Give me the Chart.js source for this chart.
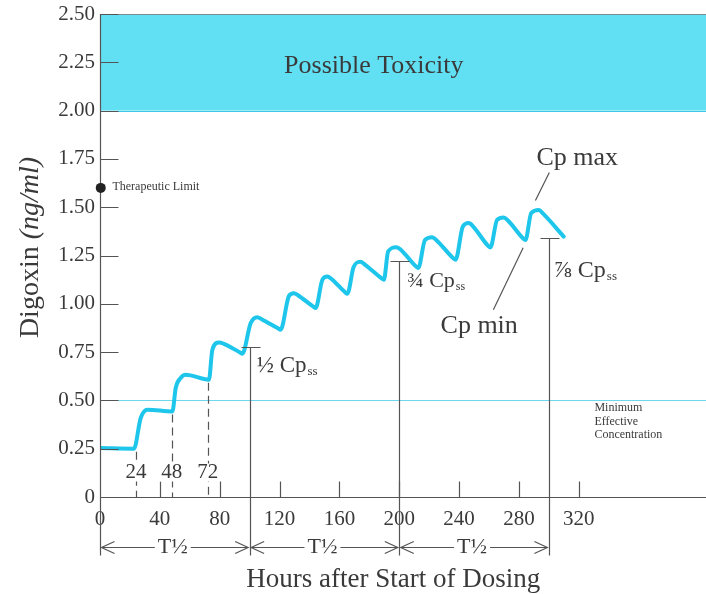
<!DOCTYPE html>
<html>
<head>
<meta charset="utf-8">
<script src="https://cdn.jsdelivr.net/npm/chart.js@4.4.1/dist/chart.umd.min.js"></script>
<style>
html,body{margin:0;padding:0;background:#fff;}
#wrap{width:706px;height:594px;position:relative;}
</style>
</head>
<body>
<div id="wrap"><canvas id="c" width="706" height="594"></canvas></div>
<script>
// ---- data ----
const hours = [0, 22.7, 27.2, 31.7, 48.4, 50.6, 53.9, 57.3, 72.8, 75.1, 79.5, 82.8, 93.6, 95.1,
  100.7, 105.1, 108, 119.2, 120.7,
  126.3, 129.6, 132.5, 142.6, 144.1,
  148.6, 151.9, 154.8, 163.8, 165.3,
  169.5, 174, 177, 188.2, 189.7,
  192.6, 198.3, 201, 211.2, 212.7,
  217.2, 222, 225, 236.1, 237.6,
  242.5, 246.4, 249.4, 259.4, 260.9,
  265.4, 269.8, 272.8, 282.8, 284.3,
  288.2, 293.3, 296.3, 309.9];
const digoxin = [0.253, 0.25, 0.409, 0.452, 0.443, 0.564, 0.616, 0.633, 0.607, 0.762, 0.80, 0.793, 0.748, 0.741,
  0.90, 0.931, 0.92, 0.872, 0.866,
  1.041, 1.055, 1.043, 0.985, 0.978,
  1.124, 1.141, 1.128, 1.06, 1.052,
  1.19, 1.218, 1.203, 1.132, 1.124,
  1.271, 1.293, 1.28, 1.193, 1.185,
  1.33, 1.345, 1.328, 1.236, 1.228,
  1.40, 1.418, 1.40, 1.30, 1.292,
  1.435, 1.447, 1.43, 1.338, 1.33,
  1.47, 1.486, 1.465, 1.348];
const xTickLabels = [0, 40, 80, 120, 160, 200, 240, 280, 320];
const yTickLabels = [0, 0.25, 0.5, 0.75, 1.0, 1.25, 1.5, 1.75, 2.0, 2.25, 2.5];
const toxicRange = [2.0, 2.5];
const minEffective = 0.5;
const therapeuticLimit = 1.6;
const doseHours = [24, 48, 72];
const doseLevels = [0.25, 0.443, 0.607];
const halfLifeHours = [100, 200, 300];
const halfLifeCaps = [0.775, 1.222, 1.341];
const halfLifeLabels = ['\u00BD', '\u00BE', '\u215E'];

const SERIF = '"Liberation Serif", "DejaVu Serif", serif';
const INK = '#3a3a3a';

function drawCpss(ctx, frac, x, y, size) {
  ctx.textAlign = 'left';
  ctx.textBaseline = 'alphabetic';
  ctx.font = size + 'px ' + SERIF;
  ctx.fillText(frac + ' Cp', x, y);
  const w = ctx.measureText(frac + ' Cp').width;
  ctx.font = Math.round(size * 0.55) + 'px ' + SERIF;
  ctx.fillText('ss', x + w + 1, y + 3);
}

function arrowHead(ctx, tx, ty, dir) {
  ctx.beginPath();
  ctx.moveTo(tx + dir * 13, ty - 6);
  ctx.lineTo(tx, ty);
  ctx.lineTo(tx + dir * 13, ty + 6);
  ctx.stroke();
}

const decor = {
  id: 'decor',
  beforeDatasetsDraw(chart) {
    const ctx = chart.ctx, xs = chart.scales.x, ys = chart.scales.y;
    ctx.save();
    const yt = ys.getPixelForValue(toxicRange[1]), yb = ys.getPixelForValue(toxicRange[0]);
    ctx.fillStyle = 'rgb(98,224,243)';
    ctx.fillRect(xs.left, yt, xs.right - xs.left, yb - yt);
    ctx.strokeStyle = '#7a8a90'; ctx.lineWidth = 1;
    ctx.beginPath(); ctx.moveTo(xs.left, Math.round(yt) + 0.5); ctx.lineTo(xs.right, Math.round(yt) + 0.5); ctx.stroke();
    ctx.strokeStyle = 'rgb(60,200,230)';
    ctx.beginPath(); ctx.moveTo(xs.left, Math.round(yb) + 0.5); ctx.lineTo(xs.right, Math.round(yb) + 0.5); ctx.stroke();
    ctx.fillStyle = INK;
    ctx.font = '26px ' + SERIF;
    ctx.textAlign = 'center'; ctx.textBaseline = 'alphabetic';
    ctx.fillText('Possible Toxicity', xs.getPixelForValue(183), ys.getPixelForValue(2.197));
    const ym = Math.round(ys.getPixelForValue(minEffective)) + 0.5;
    ctx.strokeStyle = 'rgb(110,215,238)'; ctx.lineWidth = 1;
    ctx.beginPath(); ctx.moveTo(xs.left + 18, ym); ctx.lineTo(xs.right, ym); ctx.stroke();
    ctx.restore();
  },
  afterDraw(chart) {
    const ctx = chart.ctx, xs = chart.scales.x, ys = chart.scales.y;
    const X = v => xs.getPixelForValue(v), Y = v => ys.getPixelForValue(v);
    ctx.save();
    ctx.strokeStyle = '#555'; ctx.fillStyle = INK; ctx.lineWidth = 1.2;
    const x0 = Math.round(X(0)) + 0.5, y0 = Math.round(Y(0)) + 0.5;
    const yArrow = y0 + 50;
    ctx.beginPath();
    ctx.moveTo(x0, Y(2.5)); ctx.lineTo(x0, yArrow + 8);
    ctx.moveTo(x0, y0); ctx.lineTo(xs.right, y0);
    ctx.stroke();
    ctx.beginPath();
    yTickLabels.forEach(v => { if (v > 0) { const y = Math.round(Y(v)) + 0.5; ctx.moveTo(x0, y); ctx.lineTo(x0 + 18, y); } });
    xTickLabels.forEach(v => { if (v > 0) { const x = Math.round(X(v)) + 0.5; ctx.moveTo(x, y0); ctx.lineTo(x, y0 - 16); } });
    ctx.stroke();
    ctx.setLineDash([8, 5]);
    doseHours.forEach((h, i) => {
      const x = Math.round(X(h)) + 0.5;
      ctx.beginPath(); ctx.moveTo(x, Y(doseLevels[i]) + 3); ctx.lineTo(x, y0); ctx.stroke();
    });
    ctx.setLineDash([]);
    ctx.font = '21px ' + SERIF; ctx.textAlign = 'center'; ctx.textBaseline = 'middle';
    doseHours.forEach(h => {
      const x = X(h), y = y0 - 25;
      const w = ctx.measureText(String(h)).width;
      ctx.fillStyle = '#fff'; ctx.fillRect(x - w / 2 - 1, y - 9, w + 2, 18);
      ctx.fillStyle = INK; ctx.fillText(String(h), x, y);
    });
    halfLifeHours.forEach((h, i) => {
      const x = Math.round(X(h)) + 0.5, yc = Math.round(Y(halfLifeCaps[i])) + 0.5;
      ctx.beginPath();
      ctx.moveTo(x, yc); ctx.lineTo(x, yArrow + 8);
      ctx.moveTo(x - 9, yc); ctx.lineTo(x + 10, yc);
      ctx.stroke();
    });
    ctx.fillStyle = INK;
    drawCpss(ctx, halfLifeLabels[0], X(104.7), Y(0.648), 23);
    drawCpss(ctx, halfLifeLabels[1], X(205.3), Y(1.088), 22);
    drawCpss(ctx, halfLifeLabels[2], X(303.3), Y(1.14), 24);
    ctx.font = '26px ' + SERIF; ctx.textAlign = 'left'; ctx.textBaseline = 'alphabetic';
    ctx.fillText('Cp max', X(291.7), Y(1.719));
    ctx.fillText('Cp min', X(227.6), Y(0.85));
    ctx.beginPath();
    ctx.moveTo(X(300.3), Y(1.68)); ctx.lineTo(X(291), Y(1.535));
    ctx.moveTo(X(282.8), Y(1.29)); ctx.lineTo(X(262.9), Y(0.969));
    ctx.stroke();
    ctx.beginPath(); ctx.arc(X(0.5), Y(therapeuticLimit), 5, 0, Math.PI * 2); ctx.fillStyle = '#222'; ctx.fill();
    ctx.fillStyle = INK; ctx.font = '12px ' + SERIF; ctx.textBaseline = 'alphabetic';
    ctx.fillText('Therapeutic Limit', X(8.3), Y(1.6) + 2);
    ['Minimum', 'Effective', 'Concentration'].forEach((t, i) => ctx.fillText(t, X(330.4), Y(0.443) + i * 13.3));
    ctx.font = '22px ' + SERIF; ctx.textAlign = 'center'; ctx.textBaseline = 'middle';
    const bounds = [0].concat(halfLifeHours);
    for (let i = 0; i < 3; i++) {
      const a = X(bounds[i]) + 1.5, b = X(bounds[i + 1]) - 1.5, m = (a + b) / 2 - 2;
      const w = ctx.measureText('T\u00BD').width;
      ctx.fillText('T\u00BD', m, yArrow);
      ctx.beginPath();
      ctx.moveTo(a, yArrow); ctx.lineTo(m - w / 2 - 3, yArrow);
      ctx.moveTo(m + w / 2 + 3, yArrow); ctx.lineTo(b, yArrow);
      ctx.stroke();
      arrowHead(ctx, a, yArrow, 1);
      arrowHead(ctx, b, yArrow, -1);
    }
    ctx.font = '27px ' + SERIF; ctx.textAlign = 'center'; ctx.textBaseline = 'alphabetic';
    ctx.fillText('Hours after Start of Dosing', X(196), 587);
    ctx.translate(38, Y(1.25) - 8);
    ctx.rotate(-Math.PI / 2);
    ctx.font = '28px ' + SERIF;
    const w1 = ctx.measureText('Digoxin ').width;
    ctx.font = 'italic 28px ' + SERIF;
    const w2 = ctx.measureText('(ng/ml)').width;
    ctx.textAlign = 'left';
    ctx.font = '28px ' + SERIF;
    ctx.fillText('Digoxin ', -(w1 + w2) / 2, 0);
    ctx.font = 'italic 28px ' + SERIF;
    ctx.fillText('(ng/ml)', -(w1 + w2) / 2 + w1, 0);
    ctx.restore();
  }
};

new Chart(document.getElementById('c'), {
  type: 'line',
  data: {
    datasets: [{
      data: hours.map((h, i) => ({ x: h, y: digoxin[i] })),
      borderColor: '#1ec6ec',
      borderWidth: 4,
      borderJoinStyle: 'round',
      borderCapStyle: 'round',
      pointRadius: 0,
      cubicInterpolationMode: 'monotone',
      fill: false
    }]
  },
  options: {
    responsive: false,
    animation: false,
    layout: { padding: { top: 14, right: 0, left: 0, bottom: 0 } },
    plugins: { legend: { display: false }, tooltip: { enabled: false } },
    scales: {
      x: {
        type: 'linear', min: 0, max: 405,
        afterBuildTicks: s => { s.ticks = xTickLabels.map(v => ({ value: v })); },
        afterFit: s => { s.height = 97; s.paddingLeft = 0; s.paddingRight = 0; },
        grid: { display: false, drawTicks: false },
        border: { display: false },
        ticks: { color: INK, font: { family: SERIF, size: 21 }, padding: 10, maxRotation: 0, autoSkip: false }
      },
      y: {
        type: 'linear', min: 0, max: 2.5,
        afterBuildTicks: s => { s.ticks = yTickLabels.map(v => ({ value: v })); },
        afterFit: s => { s.width = 100; s.paddingTop = 0; s.paddingBottom = 0; },
        grid: { display: false, drawTicks: false },
        border: { display: false },
        ticks: { color: INK, font: { family: SERIF, size: 21 }, padding: 5,
          callback: v => v === 0 ? '0' : v.toFixed(2) }
      }
    }
  },
  plugins: [decor]
});
</script>
</body>
</html>
